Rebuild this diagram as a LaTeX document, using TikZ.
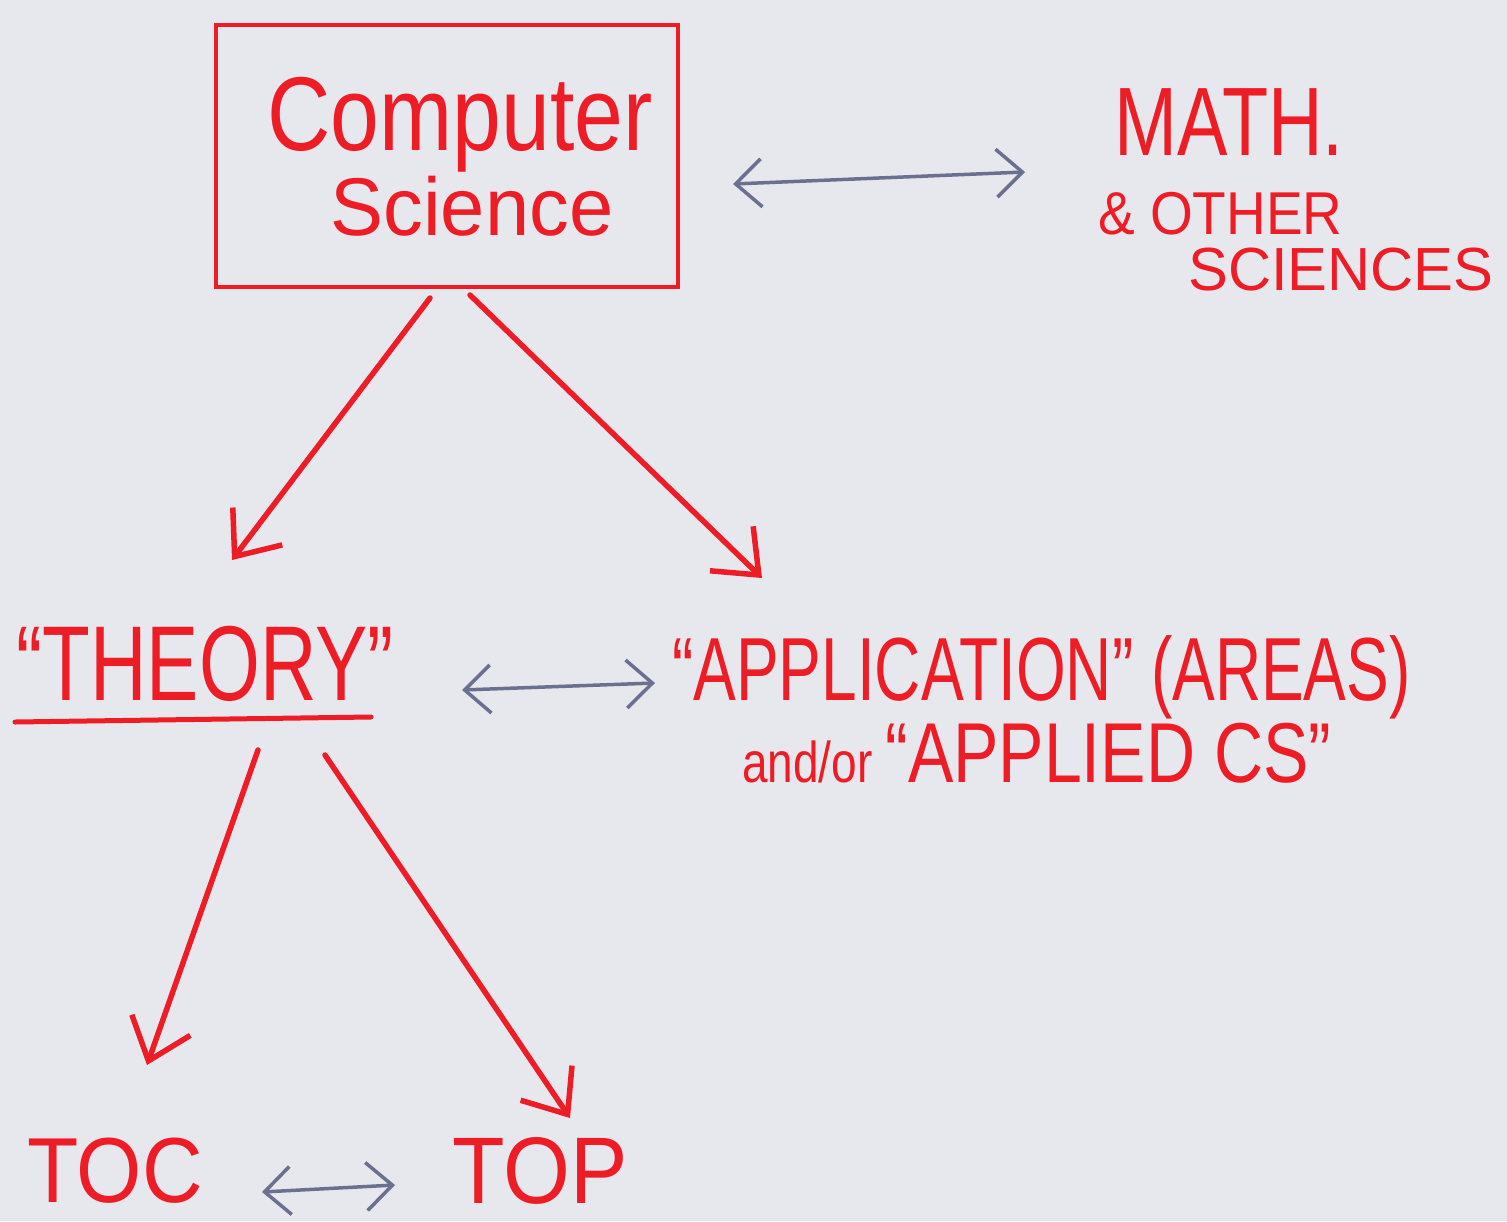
\documentclass[tikz,border=0pt]{standalone}
\usepackage{fontspec}
\usepackage{graphicx}
\setmainfont{Liberation Sans}
\usetikzlibrary{arrows.meta}
\definecolor{paper}{HTML}{E6E8EE}
\definecolor{pen}{HTML}{EE1C24}
\definecolor{ink}{HTML}{6B7090}
\tikzset{
  redtxt/.style={text=pen, inner sep=0pt},
  redarrow/.style={draw=pen, line width=5.5pt, line cap=round, line join=round,
    -{Straight Barb[length=38pt,width=62pt,line width=5.5pt]}},
  bluearrow/.style={draw=ink, line width=3.5pt, line cap=round, line join=round,
    {Straight Barb[length=26pt,width=48pt,line width=3.5pt]}-{Straight Barb[length=26pt,width=48pt,line width=3.5pt]}},
}
\newcommand{\fs}[1]{\fontsize{#1}{#1}\selectfont}
\newcommand{\tall}[3]{\scalebox{#1}[#2]{#3}}
\begin{document}
\begin{tikzpicture}[x=1pt,y=-1pt]
\fill[paper] (0,0) rectangle (1507,1221);
\useasboundingbox (0,0) rectangle (1507,1221);

% Computer Science box
\node[draw=pen, line width=4pt, minimum width=462pt, minimum height=262pt, inner sep=0pt] (cs) at (447,156) {};
\node[redtxt, anchor=base] (cst1) at (460,150) {\tall{1.02}{1.22}{\fs{86}Computer}};
\node[redtxt, anchor=base] (cst2) at (472,235) {\tall{1.02}{1.05}{\fs{78}Science}};

% Math & other sciences
\node[redtxt, anchor=base west] (math) at (1114,155) {\tall{1.05}{1.35}{\fs{72}MATH.}};
\node[redtxt, anchor=base west] (other) at (1098,234) {\tall{1}{1.1}{\fs{55}\& OTHER}};
\node[redtxt, anchor=base west] (sci) at (1188,290) {\tall{1.03}{1.05}{\fs{58}SCIENCES}};

% Theory
\node[redtxt, anchor=base] (theory) at (205,700) {\tall{1.03}{1.4}{\fs{76}“THEORY”}};
\draw[pen, line width=5pt, line cap=round] ([shift={(-190,22)}]theory.base) -- ([shift={(166,17)}]theory.base);

% Application
\node[redtxt, anchor=base west] (app) at (672,700) {\tall{1}{1.4}{\fs{64}“APPLICATION” (AREAS)}};
\node[redtxt, anchor=base west] (applied) at (742,782) {\tall{1}{1.25}{\fs{46}and/or \fs{68}“APPLIED CS”}};

% TOC, TOP
\node[redtxt, anchor=base] (toc) at (115,1202) {\tall{1}{1.1}{\fs{84}TOC}};
\node[redtxt, anchor=base] (top) at (540,1203) {\tall{1}{1.1}{\fs{86}TOP}};

% red arrows
\draw[redarrow] ([shift={(-17,9)}]cs.south) -- ([shift={(27,-140)}]theory.base);
\draw[redarrow] ([shift={(23,6)}]cs.south) -- ([shift={(90,-122)}]app.base west);
\draw[redarrow] ([shift={(53,50)}]theory.base) -- ([shift={(32,-137)}]toc.base);
\draw[redarrow] ([shift={(120,55)}]theory.base) -- ([shift={(30,-85)}]top.base);

% blue double arrows
\draw[bluearrow] ([shift={(53,28)}]cs.east) -- ([shift={(-89,17)}]math.base west);
\draw[bluearrow] ([shift={(257,-10)}]theory.base) -- ([shift={(-17,-17)}]app.base west);
\draw[bluearrow] ([shift={(147,-10)}]toc.base) -- ([shift={(-145,-18)}]top.base);
\end{tikzpicture}
\end{document}
